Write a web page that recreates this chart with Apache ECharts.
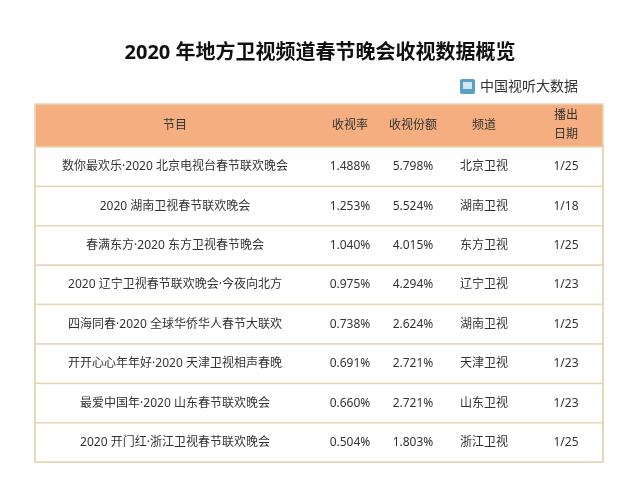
<!DOCTYPE html><html><head><meta charset="utf-8">
<script src="https://cdn.jsdelivr.net/npm/echarts@6/dist/echarts.min.js"></script>
<style>html,body{margin:0;background:#fff}#c{width:640px;height:488px}</style></head><body><div id="c"></div>
<script>
var headers=['节目','收视率','收视份额','频道','播出\n日期'];
var programs=['数你最欢乐·2020 北京电视台春节联欢晚会','2020 湖南卫视春节联欢晚会','春满东方·2020 东方卫视春节晚会','2020 辽宁卫视春节联欢晚会·今夜向北方','四海同春·2020 全球华侨华人春节大联欢','开开心心年年好·2020 天津卫视相声春晚','最爱中国年·2020 山东春节联欢晚会','2020 开门红·浙江卫视春节联欢晚会'];
var ratings=['1.488%','1.253%','1.040%','0.975%','0.738%','0.691%','0.660%','0.504%'];
var shares=['5.798%','5.524%','4.015%','4.294%','2.624%','2.721%','2.721%','1.803%'];
var channels=['北京卫视','湖南卫视','东方卫视','辽宁卫视','湖南卫视','天津卫视','山东卫视','浙江卫视'];
var dates=['1/25','1/18','1/25','1/23','1/25','1/23','1/23','1/25'];

var F='"Noto Sans","Noto Sans CJK SC",sans-serif';
var L=35,R=603,HT=104,HB=147,RH=39.4;
var colX=[175,350,413,484,566];
var g=[];
g.push({type:'text',x:320,y:53,style:{text:'2020 年地方卫视频道春节晚会收视数据概览',font:'bold 20px '+F,fill:'#111',align:'center',verticalAlign:'middle'}});
g.push({type:'rect',shape:{x:460,y:79,width:15,height:15,r:2},style:{fill:'#5a9fc8'}});
g.push({type:'rect',shape:{x:463,y:82,width:9,height:7},style:{fill:'#cfe6f3'}});
g.push({type:'text',x:480,y:87,style:{text:'中国视听大数据',font:'14px '+F,fill:'#333',verticalAlign:'middle'}});
g.push({type:'rect',shape:{x:L,y:HT,width:R-L,height:HB-HT},style:{fill:'#f4ae80'}});
headers.forEach(function(h,i){g.push({type:'text',x:colX[i],y:(HT+HB)/2,style:{text:h,font:'12px '+F,fill:'#333',align:'center',verticalAlign:'middle',lineHeight:19}});});
var cols=[programs,ratings,shares,channels,dates];
for(var r=0;r<programs.length;r++){
  var y0=HB+r*RH;
  g.push({type:'rect',shape:{x:L,y:y0,width:R-L,height:RH},style:{fill:'#fff',stroke:'#e3d8b8',lineWidth:1.5}});
  cols.forEach(function(c,i){g.push({type:'text',x:colX[i],y:y0+RH/2,style:{text:c[r],font:'12px '+F,fill:'#333',align:'center',verticalAlign:'middle'}});});
}
g.push({type:'rect',shape:{x:L,y:HT,width:R-L,height:HB-HT+RH*programs.length},style:{fill:null,stroke:'#e3d8b8',lineWidth:1.5}});
var ch=echarts.init(document.getElementById('c'));
ch.setOption({graphic:g});
</script></body></html>
